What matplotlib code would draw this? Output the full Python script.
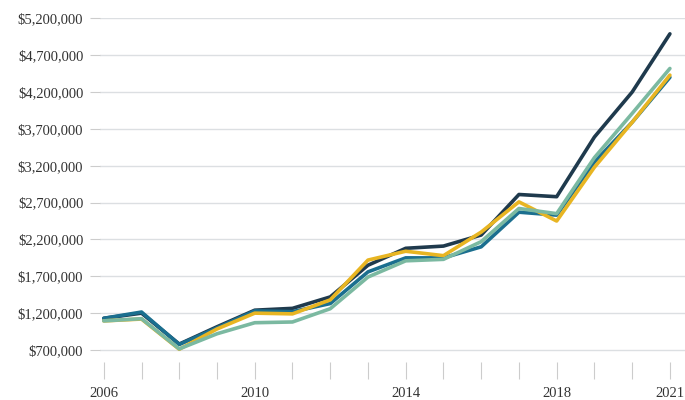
import matplotlib
matplotlib.use("Agg")
import matplotlib.pyplot as plt
from matplotlib.ticker import FuncFormatter

# ---- data ----
years = list(range(2006, 2022))
navy = [1130000, 1200000, 780000, 1015000, 1240000, 1265000, 1420000, 1850000,
        2080000, 2110000, 2260000, 2810000, 2780000, 3590000, 4200000, 4990000]
teal = [1130000, 1215000, 775000, 1000000, 1230000, 1220000, 1330000, 1760000,
        1950000, 1950000, 2100000, 2570000, 2530000, 3250000, 3790000, 4400000]
gold = [1095000, 1120000, 710000, 985000, 1200000, 1190000, 1380000, 1920000,
        2040000, 1980000, 2300000, 2710000, 2450000, 3180000, 3790000, 4430000]
green = [1095000, 1125000, 715000, 920000, 1070000, 1080000, 1260000, 1690000,
         1910000, 1930000, 2170000, 2620000, 2550000, 3310000, 3910000, 4520000]

yticks = [700000 + 500000 * i for i in range(10)]
xlabels = [2006, 2010, 2014, 2018, 2021]

plt.rcParams['font.family'] = ['Liberation Serif', 'DejaVu Serif']

fig = plt.figure(figsize=(6.85, 4.0), dpi=100)
ax = fig.add_axes([0.146, 0.095, 0.854, 0.86])

ax.plot(years, navy, color='#1f3a4d', lw=2.6, solid_capstyle='round', zorder=3)
ax.plot(years, teal, color='#1b6f8f', lw=2.6, solid_capstyle='round', zorder=4)
ax.plot(years, gold, color='#e8b522', lw=2.6, solid_capstyle='round', zorder=5)
ax.plot(years, green, color='#7bb9a1', lw=2.6, solid_capstyle='round', zorder=6)

ax.set_ylim(537000, 5200000 + 5000)
ax.set_xlim(2005.9, 2021.4)
ax.set_yticks(yticks)
ax.yaxis.set_major_formatter(FuncFormatter(lambda v, p: f"${v:,.0f}"))
ax.set_xticks(years)
ax.set_xticklabels([str(y) if y in xlabels else '' for y in years])

ax.grid(axis='y', color='#dcdfe2', lw=1)
ax.set_axisbelow(True)
for s in ax.spines.values():
    s.set_visible(False)

ax.tick_params(axis='y', length=7, width=0.8, color='#cccccc', pad=5,
               labelsize=10.5, labelcolor='#333333')
ax.tick_params(axis='x', length=12, width=0.8, color='#cccccc', pad=6,
               labelsize=10.5, labelcolor='#333333')

fig.savefig('out.png', dpi=100)
